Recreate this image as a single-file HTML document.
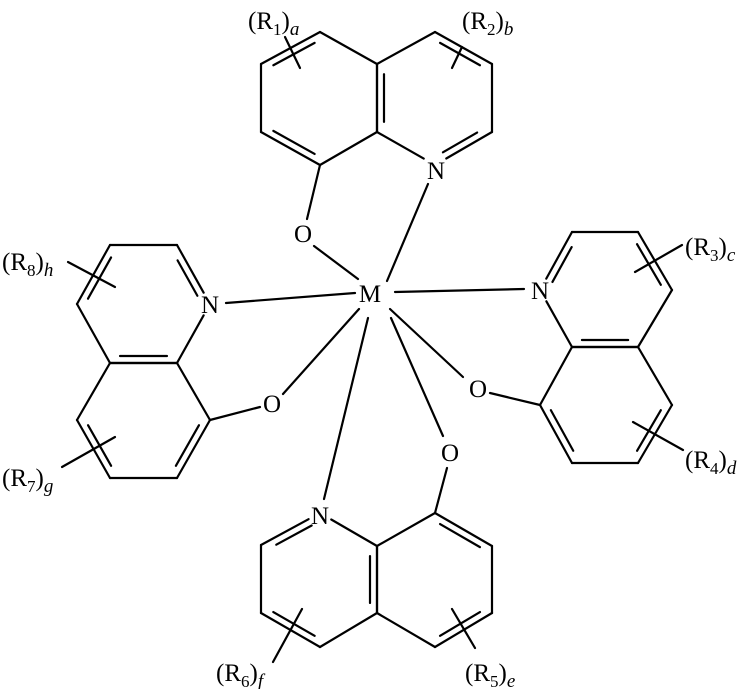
<!DOCTYPE html>
<html><head><meta charset="utf-8"><style>
html,body{margin:0;padding:0;background:#fff;}
svg{display:block;}
text{font-family:"Liberation Serif",serif;fill:#000;}
</style></head><body>
<svg id="s" width="750" height="689" viewBox="0 0 750 689" xmlns="http://www.w3.org/2000/svg">
<g id="g" stroke="#000" stroke-width="2.2" stroke-linecap="round" fill="none"></g>
<g font-size="25" text-anchor="middle">
<text x="370" y="302">M</text>
<text x="436" y="179">N</text>
<text x="303" y="242">O</text>
<text x="210" y="313">N</text>
<text x="272" y="412">O</text>
<text x="540" y="299">N</text>
<text x="478" y="397">O</text>
<text x="450" y="461">O</text>
<text x="320" y="524">N</text>
</g>
<g font-size="25">
<text x="248" y="29">(R<tspan font-size="17" dy="6">1</tspan><tspan dy="-6">)</tspan><tspan font-style="italic" font-size="19" dy="6">a</tspan></text>
<text x="462" y="29">(R<tspan font-size="17" dy="6">2</tspan><tspan dy="-6">)</tspan><tspan font-style="italic" font-size="19" dy="6">b</tspan></text>
<text x="2" y="270">(R<tspan font-size="17" dy="6">8</tspan><tspan dy="-6">)</tspan><tspan font-style="italic" font-size="19" dy="6">h</tspan></text>
<text x="2" y="486">(R<tspan font-size="17" dy="6">7</tspan><tspan dy="-6">)</tspan><tspan font-style="italic" font-size="19" dy="6">g</tspan></text>
<text x="685" y="255">(R<tspan font-size="17" dy="6">3</tspan><tspan dy="-6">)</tspan><tspan font-style="italic" font-size="19" dy="6">c</tspan></text>
<text x="685" y="468">(R<tspan font-size="17" dy="6">4</tspan><tspan dy="-6">)</tspan><tspan font-style="italic" font-size="19" dy="6">d</tspan></text>
<text x="216" y="681">(R<tspan font-size="17" dy="6">6</tspan><tspan dy="-6">)</tspan><tspan font-style="italic" font-size="19" dy="6">f</tspan></text>
<text x="465" y="681">(R<tspan font-size="17" dy="6">5</tspan><tspan dy="-6">)</tspan><tspan font-style="italic" font-size="19" dy="6">e</tspan></text>
</g>
</svg>
<script>
var g=document.getElementById('g');
function L(x1,y1,x2,y2){var l=document.createElementNS('http://www.w3.org/2000/svg','line');l.setAttribute('x1',x1);l.setAttribute('y1',y1);l.setAttribute('x2',x2);l.setAttribute('y2',y2);g.appendChild(l);}
function trim(a,b,t){var dx=b[0]-a[0],dy=b[1]-a[1],d=Math.hypot(dx,dy);return [a[0]+dx/d*t,a[1]+dy/d*t];}
function ring(p,dbl,n){
 var cx=0,cy=0;p.forEach(function(q){cx+=q[0];cy+=q[1];});cx/=6;cy/=6;
 for(var i=0;i<6;i++){var j=(i+1)%6;var a=p[i],b=p[j];
  if(i===n)a=trim(a,b,13);if(j===n)b=trim(b,a,13);
  L(a[0],a[1],b[0],b[1]);}
 dbl.forEach(function(e){var a=p[e[0]],b=p[e[1]];
  var mx=(a[0]+b[0])/2,my=(a[1]+b[1])/2;var vx=cx-mx,vy=cy-my,vd=Math.hypot(vx,vy);
  var ox=vx/vd*7,oy=vy/vd*7;
  var s=0.15;if(e[0]===n||e[1]===n)s=0.2;
  var A=[a[0]+(b[0]-a[0])*s+ox,a[1]+(b[1]-a[1])*s+oy],B=[b[0]+(a[0]-b[0])*s+ox,b[1]+(a[1]-b[1])*s+oy];
  L(A[0],A[1],B[0],B[1]);});
}
ring([[320,32],[261,64],[261,132],[320,165],[377,132],[377,64]],[[0,1],[2,3]],-1);
ring([[377,64],[435,32],[492,64],[492,132],[435,165],[377,132]],[[1,2],[3,4],[5,0]],4);
ring([[110,245],[177,245],[210,304],[177,363],[110,363],[77,304]],[[5,0],[1,2],[3,4]],2);
ring([[110,363],[177,363],[210,420],[177,478],[110,478],[77,420]],[[5,4],[3,2]],-1);
ring([[572,232],[638,232],[672,290],[638,347],[572,347],[540,290]],[[5,0],[1,2],[3,4]],5);
ring([[572,347],[638,347],[672,405],[638,463],[572,463],[540,405]],[[5,4],[3,2]],-1);
ring([[320,513],[377,546],[377,613],[320,647],[261,613],[261,545]],[[0,5],[3,4],[1,2]],0);
ring([[377,546],[435,513],[492,546],[492,613],[435,647],[377,613]],[[1,2],[3,4]],-1);
[[307,219,320,165],[314,246,358,279],[428,184,387,281],[226,303,355,293],[283,394,359,309],[210,420,260,407],
[395,292,524,289],[390,309,463,377],[490,393,540,405],[391,318,443,436],[447,468,435,513],[368,318,324,499],
[285,37,300,68],[462,47,452,68],[68,262,115,287],[115,437,62,467],[635,272,682,245],[633,422,683,450],[302,609,273,662],[452,609,475,648]
].forEach(function(a){L(a[0],a[1],a[2],a[3]);});
</script>
</body></html>
